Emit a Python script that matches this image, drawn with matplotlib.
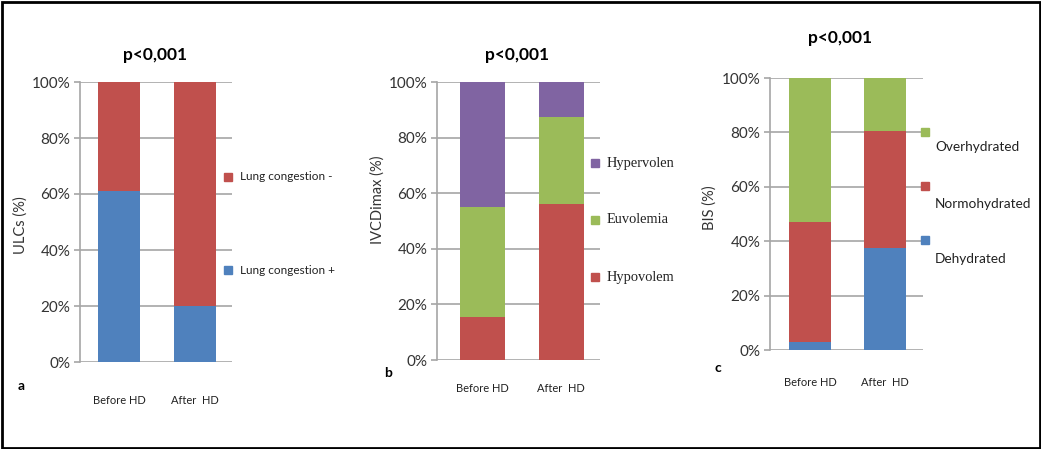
import matplotlib
matplotlib.use("Agg")
import matplotlib.pyplot as plt
from matplotlib.patches import Rectangle

# cores no estilo Excel 2007
azul = "#4F81BD"
vermelho = "#C0504D"
verde = "#9BBB59"
roxo = "#8064A2"
cinza = "#A6A6A6"

categorias = ["Before HD", "After  HD"]

# painel a - ULCs
a_congestao_pos = [61, 20]
a_congestao_neg = [39, 80]

# painel b - IVCDimax
b_hipo = [15.5, 56]
b_euvo = [39.5, 31.5]
b_hiper = [45, 12.5]

# painel c - BIS
c_desidratado = [3, 37.5]
c_normo = [44, 43]
c_super = [53, 19.5]

W, H = 1041, 449
plt.rcParams['font.family'] = ['Lato', 'DejaVu Sans']

fig = plt.figure(figsize=(W / 100, H / 100), dpi=100)


def fx(px):
    return px / W


def fy(py):
    return 1 - py / H


def eixo(esq, dir_, topo, base, xlim, pad_px):
    ax = fig.add_axes([fx(esq), fy(base), fx(dir_ - esq), (base - topo) / H])
    ax.set_xlim(*xlim)
    ax.set_ylim(0, 100)
    ax.set_yticks([0, 20, 40, 60, 80, 100])
    ax.set_yticklabels([f"{v}%" for v in range(0, 101, 20)], fontsize=11, color="#333333")
    ax.yaxis.grid(True, color=cinza, linewidth=1.2)
    ax.set_axisbelow(True)
    for s in ["top", "right", "bottom"]:
        ax.spines[s].set_visible(False)
    ax.spines["left"].set_color(cinza)
    ax.spines["left"].set_linewidth(1.2)
    ax.tick_params(axis="y", length=4, color=cinza, width=1.2, pad=3)
    ax.tick_params(axis="x", length=0, pad=pad_px * 0.72, labelsize=8, labelcolor="#222222")
    ax.set_xticks([0, 1])
    ax.set_xticklabels(categorias)
    return ax


def pilha(ax, series, cores, largura):
    fundo = [0, 0]
    for vals, cor in zip(series, cores):
        ax.bar([0, 1], vals, bottom=fundo, width=largura, color=cor, zorder=3)
        fundo = [f + v for f, v in zip(fundo, vals)]


def legenda(x_mk, x_txt, itens, familia=None, tam=8.5):
    # itens: (y do marcador, y do texto, cor, texto)
    for y, y_txt, cor, texto in itens:
        fig.patches.append(Rectangle((fx(x_mk - 4), fy(y + 4)), fx(8), 8 / H,
                                     transform=fig.transFigure, color=cor))
        kw = {}
        if familia:
            kw["family"] = familia
        fig.text(fx(x_txt), fy(y_txt), texto, fontsize=tam, va="center",
                 ha="left", color="#222222", **kw)


# painel a
ax_a = eixo(80, 232, 82, 362, (-0.513, 1.487), 33)
pilha(ax_a, [a_congestao_pos, a_congestao_neg], [azul, vermelho], 0.55)
fig.text(fx(21), fy(225), "ULCs (%)", rotation=90, fontsize=10.5, va="center", ha="center", color="#333333")
fig.text(fx(155), fy(55), "p<0,001", fontsize=12.5, fontweight="bold", ha="center", va="center")
fig.text(fx(21), fy(386), "a", fontsize=10, fontweight="bold", ha="center", va="center")
legenda(228, 240, [(177, 177, vermelho, "Lung congestion -"), (270, 270, azul, "Lung congestion +")])

# painel b
ax_b = eixo(437, 600, 82, 360, (-0.57, 1.49), 23)
pilha(ax_b, [b_hipo, b_euvo, b_hiper], [vermelho, verde, roxo], 0.57)
fig.text(fx(378), fy(200), "IVCDimax (%)", rotation=90, fontsize=10.5, va="center", ha="center", color="#333333")
fig.text(fx(517), fy(55), "p<0,001", fontsize=12.5, fontweight="bold", ha="center", va="center")
fig.text(fx(388), fy(373), "b", fontsize=10, fontweight="bold", ha="center", va="center")
legenda(595, 607, [(163, 163, roxo, "Hypervolen"), (220, 220, verde, "Euvolemia"), (277, 277, vermelho, "Hypovolem")],
        familia=["Liberation Serif"], tam=10.4)

# painel c
ax_c = eixo(770, 923, 78, 350, (-0.533, 1.507), 27)
pilha(ax_c, [c_desidratado, c_normo, c_super], [azul, vermelho, verde], 0.57)
fig.text(fx(710), fy(208), "BIS (%)", rotation=90, fontsize=10.5, va="center", ha="center", color="#333333")
fig.text(fx(840), fy(38), "p<0,001", fontsize=12.5, fontweight="bold", ha="center", va="center")
fig.text(fx(718), fy(368), "c", fontsize=10, fontweight="bold", ha="center", va="center")
legenda(925, 935, [(132, 147, verde, "Overhydrated"), (186, 204, vermelho, "Normohydrated"),
                   (240, 259, azul, "Dehydrated")], tam=9.8)

# moldura preta
fig.patches.append(Rectangle((fx(1.5), fy(447.5)), fx(1038), 446 / H, transform=fig.transFigure,
                             fill=False, edgecolor="black", linewidth=2))

fig.savefig("out.png", dpi=100)
